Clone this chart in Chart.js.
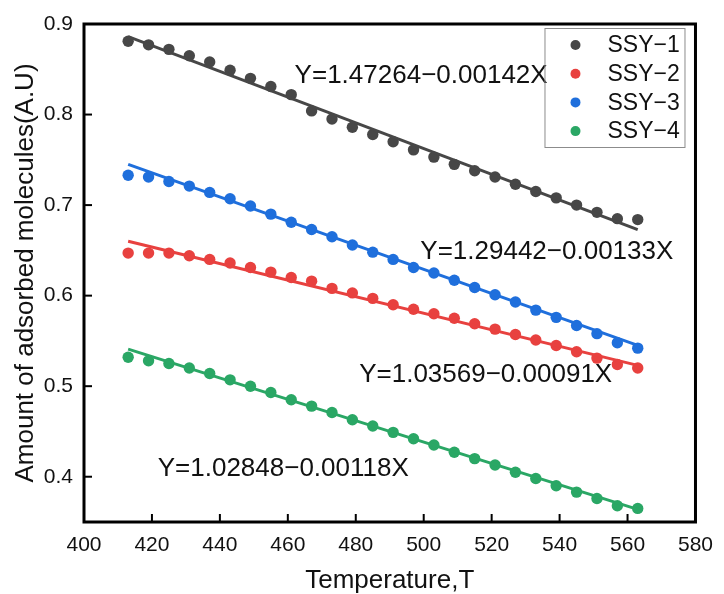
<!DOCTYPE html>
<html>
<head>
<meta charset="utf-8">
<script src="https://cdn.jsdelivr.net/npm/chart.js@4.4.1/dist/chart.umd.min.js"></script>
<style>
  html, body { margin: 0; padding: 0; background: #fff; }
  #wrap { width: 724px; height: 594px; }
</style>
</head>
<body>
<div id="wrap"><canvas id="adsChart" width="724" height="594"></canvas></div>
<script>
// values
const temperature = [413, 419, 425, 431, 437, 443, 449, 455, 461, 467, 473, 479, 485,
                     491, 497, 503, 509, 515, 521, 527, 533, 539, 545, 551, 557, 563];
const ssy1 = [0.881, 0.877, 0.872, 0.865, 0.858, 0.849, 0.840, 0.831, 0.822, 0.804, 0.795, 0.786, 0.778,
              0.770, 0.761, 0.753, 0.745, 0.738, 0.731, 0.723, 0.715, 0.708, 0.700, 0.692, 0.685, 0.684];
const ssy2 = [0.647, 0.647, 0.647, 0.644, 0.640, 0.636, 0.631, 0.626, 0.620, 0.616, 0.608, 0.603, 0.597,
              0.590, 0.585, 0.580, 0.575, 0.569, 0.563, 0.557, 0.551, 0.545, 0.538, 0.531, 0.524, 0.520];
const ssy3 = [0.733, 0.731, 0.726, 0.721, 0.714, 0.707, 0.699, 0.690, 0.681, 0.673, 0.665, 0.656, 0.648,
              0.640, 0.631, 0.625, 0.617, 0.609, 0.601, 0.593, 0.584, 0.576, 0.567, 0.558, 0.548, 0.542];
const ssy4 = [0.532, 0.528, 0.525, 0.520, 0.514, 0.507, 0.500, 0.493, 0.485, 0.478, 0.471, 0.463, 0.456,
              0.449, 0.442, 0.435, 0.427, 0.420, 0.413, 0.405, 0.398, 0.390, 0.383, 0.376, 0.368, 0.365];

// fitted lines (end points)
const fitX = [413, 563];
const fit1 = [0.886, 0.673];
const fit2 = [0.660, 0.523];
const fit3 = [0.745, 0.545];
const fit4 = [0.541, 0.364];

const seriesNames = ['SSY\u22121', 'SSY\u22122', 'SSY\u22123', 'SSY\u22124'];
const equations = ['Y=1.47264\u22120.00142X', 'Y=1.03569\u22120.00091X',
                   'Y=1.29442\u22120.00133X', 'Y=1.02848\u22120.00118X'];
// where each equation sits, in data units (left edge, middle)
const eqAt = [[462, 0.843], [481, 0.512], [499, 0.648], [421.7, 0.409]];

const colors = ['#474747', '#e8413f', '#1f6fdc', '#2aa765'];
const FONT = "'Liberation Sans', Arial, sans-serif";

function pts(xs, ys) { return xs.map((x, i) => ({x: x, y: ys[i]})); }

const scatterSets = [ssy1, ssy2, ssy3, ssy4].map((ys, i) => ({
    type: 'scatter',
    label: seriesNames[i],
    data: pts(temperature, ys),
    backgroundColor: colors[i],
    borderColor: colors[i],
    pointRadius: 5.7,
    pointHoverRadius: 5.7,
    borderWidth: 0,
    order: 2
}));
const fitSets = [fit1, fit2, fit3, fit4].map((ys, i) => ({
    type: 'line',
    label: 'fit' + (i + 1),
    data: pts(fitX, ys),
    borderColor: colors[i],
    borderWidth: 3,
    pointRadius: 0,
    fill: false,
    order: 1
}));

const frame = {
    id: 'frame',
    afterDraw(chart) {
        const c = chart.ctx, a = chart.chartArea;
        const xs = chart.scales.x, ys = chart.scales.y;
        c.save();
        c.strokeStyle = '#000';
        c.lineWidth = 2;
        xs.ticks.forEach(t => {
            const px = xs.getPixelForValue(t.value);
            const len = (Math.round(t.value) % 20 === 0) ? 8 : 5;
            c.beginPath(); c.moveTo(px, a.bottom); c.lineTo(px, a.bottom - len); c.stroke();
        });
        ys.ticks.forEach(t => {
            const py = ys.getPixelForValue(t.value);
            const major = Math.abs(t.value * 10 - Math.round(t.value * 10)) < 1e-6;
            const len = major ? 8 : 5;
            c.beginPath(); c.moveTo(a.left, py); c.lineTo(a.left + len, py); c.stroke();
        });
        c.lineWidth = 3;
        c.strokeRect(a.left, a.top, a.right - a.left, a.bottom - a.top);

        // equations
        c.fillStyle = '#111';
        c.font = '26px ' + FONT;
        c.textBaseline = 'middle';
        c.textAlign = 'left';
        equations.forEach((txt, i) => {
            c.fillText(txt, xs.getPixelForValue(eqAt[i][0]), ys.getPixelForValue(eqAt[i][1]));
        });

        // legend box in the top right corner
        const bx = a.right - 151, by = a.top + 4, bw = 140, bh = 119;
        c.lineWidth = 1;
        c.strokeStyle = '#8c8c8c';
        c.strokeRect(bx + 0.5, by + 0.5, bw, bh);
        c.font = '23px ' + FONT;
        scatterSets.forEach((ds, i) => {
            const cy = by + 17 + i * 28.7;
            c.fillStyle = ds.backgroundColor;
            c.beginPath(); c.arc(bx + 31, cy, 5, 0, Math.PI * 2); c.fill();
            c.fillStyle = '#111';
            c.fillText(ds.label, bx + 63, cy + 1);
        });
        c.restore();
    }
};

const ctx = document.getElementById('adsChart').getContext('2d');
Chart.defaults.font.family = FONT;
Chart.defaults.color = '#111';
const adsChart = new Chart(ctx, {
    type: 'scatter',
    data: { datasets: fitSets.concat(scatterSets) },
    options: {
        responsive: false,
        animation: false,
        layout: { padding: { top: 24, right: 19, left: 0, bottom: 0 } },
        plugins: { legend: { display: false }, tooltip: { enabled: false } },
        scales: {
            x: {
                type: 'linear',
                min: 400, max: 580,
                afterFit: s => { s.height = 72; },
                grid: { display: false, drawTicks: false },
                border: { display: false },
                ticks: {
                    stepSize: 10,
                    padding: 11,
                    font: { size: 21 },
                    color: '#111',
                    maxRotation: 0,
                    autoSkip: false,
                    callback: v => (Math.round(v) % 20 === 0 ? String(v) : null)
                },
                title: {
                    display: true,
                    text: 'Temperature,T',
                    font: { size: 26, lineHeight: 1 },
                    color: '#111',
                    padding: { top: 0, bottom: 0 }
                }
            },
            y: {
                type: 'linear',
                min: 0.35, max: 0.9,
                afterFit: s => { s.width = 84; },
                grid: { display: false, drawTicks: false },
                border: { display: false },
                ticks: {
                    stepSize: 0.05,
                    padding: 11,
                    font: { size: 21 },
                    color: '#111',
                    autoSkip: false,
                    callback: v => (Math.abs(v * 10 - Math.round(v * 10)) < 1e-6 ? v.toFixed(1) : null)
                },
                title: {
                    display: true,
                    text: 'Amount of adsorbed molecules(A.U)',
                    font: { size: 26, lineHeight: 1 },
                    color: '#111',
                    padding: { top: 13, bottom: 0 }
                }
            }
        }
    },
    plugins: [frame]
});
</script>
</body>
</html>
